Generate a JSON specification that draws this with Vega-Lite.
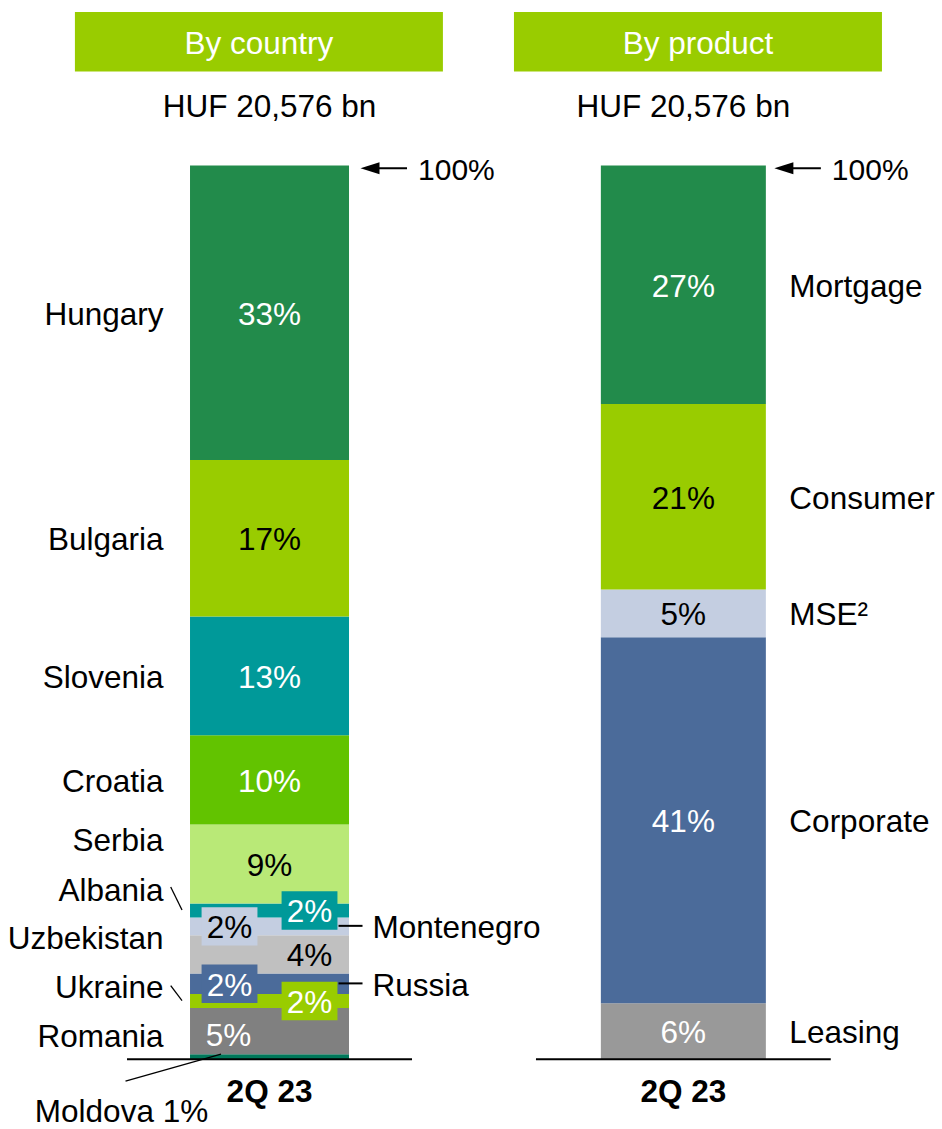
{
  "$schema": "https://vega.github.io/schema/vega-lite/v6.json",
  "width": 942,
  "height": 1129,
  "autosize": {"type": "fit", "contains": "padding"},
  "padding": 0,
  "background": "white",
  "config": {
    "view": {"stroke": null},
    "font": "Liberation Sans",
    "text": {"font": "Liberation Sans", "fontSize": 31.5, "dy": 3, "baseline": "middle"}
  },
  "datasets": {
    "segments": [
      {"panel": "country", "name": "Moldova", "value": 0.56, "pct": "1%", "order": 1},
      {"panel": "country", "name": "Romania", "value": 5.17, "pct": "5%", "order": 2},
      {"panel": "country", "name": "Ukraine", "value": 1.56, "pct": "2%", "order": 3},
      {"panel": "country", "name": "Russia", "value": 2.31, "pct": "2%", "order": 4},
      {"panel": "country", "name": "Uzbekistan", "value": 4.27, "pct": "4%", "order": 5},
      {"panel": "country", "name": "Montenegro", "value": 1.98, "pct": "2%", "order": 6},
      {"panel": "country", "name": "Albania", "value": 1.58, "pct": "2%", "order": 7},
      {"panel": "country", "name": "Serbia", "value": 8.83, "pct": "9%", "order": 8},
      {"panel": "country", "name": "Croatia", "value": 10.0, "pct": "10%", "order": 9},
      {"panel": "country", "name": "Slovenia", "value": 13.28, "pct": "13%", "order": 10},
      {"panel": "country", "name": "Bulgaria", "value": 17.52, "pct": "17%", "order": 11},
      {"panel": "country", "name": "Hungary", "value": 32.94, "pct": "33%", "order": 12},
      {"panel": "product", "name": "Leasing", "value": 6.25, "pct": "6%", "order": 1},
      {"panel": "product", "name": "Corporate", "value": 40.96, "pct": "41%", "order": 2},
      {"panel": "product", "name": "MSE²", "value": 5.36, "pct": "5%", "order": 3},
      {"panel": "product", "name": "Consumer", "value": 20.76, "pct": "21%", "order": 4},
      {"panel": "product", "name": "Mortgage", "value": 26.67, "pct": "27%", "order": 5}
    ],
    "panels": [
      {"panel": "country", "header": "By country", "total": "HUF 20,576 bn", "period": "2Q 23", "top": "100%"},
      {"panel": "product", "header": "By product", "total": "HUF 20,576 bn", "period": "2Q 23", "top": "100%"}
    ]
  },
  "layer": [
    {
      "data": {"name": "segments"},
      "transform": [
        {"stack": "value", "groupby": ["panel"], "sort": [{"field": "order", "order": "ascending"}], "as": ["v0", "v1"]},
        {"calculate": "(datum.v0 + datum.v1) / 2", "as": "mid"}
      ],
      "layer": [
        {
          "transform": [{"filter": "datum.panel === 'country'"}],
          "mark": {"type": "bar", "width": 159},
          "encoding": {
            "x": {"field": "panel", "type": "nominal", "axis": null, "scale": {"domain": ["country", "product"], "paddingInner": 0.6, "paddingOuter": 0.4381, "align": 0.515}},
            "y": {"field": "v0", "type": "quantitative", "axis": null, "scale": {"domain": [-7.478, 118.527], "nice": false, "zero": false}},
            "y2": {"field": "v1"},
            "color": {"field": "name", "type": "nominal", "legend": null, "scale": {
              "domain": ["Hungary", "Bulgaria", "Slovenia", "Croatia", "Serbia", "Albania", "Montenegro", "Uzbekistan", "Russia", "Ukraine", "Romania", "Moldova", "Mortgage", "Consumer", "MSE²", "Corporate", "Leasing"],
              "range": ["#228B4B", "#99CC00", "#009999", "#62C300", "#B9E977", "#009999", "#C4CEE1", "#C0C0C0", "#4B6B9A", "#99CC00", "#808080", "#00785A", "#228B4B", "#99CC00", "#C4CEE1", "#4B6B9A", "#999999"]}}
          }
        },
        {
          "transform": [{"filter": "datum.panel === 'product'"}],
          "mark": {"type": "bar", "width": 165},
          "encoding": {
            "x": {"field": "panel", "type": "nominal", "axis": null},
            "y": {"field": "v0", "type": "quantitative", "axis": null},
            "y2": {"field": "v1"},
            "color": {"field": "name", "type": "nominal", "legend": null}
          }
        },
        {
          "transform": [{"filter": "indexof(['Montenegro','Russia'], datum.name) >= 0"}],
          "mark": {"type": "point", "shape": "M-1.4545,-1L1.4545,-1L1.4545,1L-1.4545,1Z", "filled": true, "size": 1475, "opacity": 1, "strokeWidth": 0, "xOffset": -40},
          "encoding": {
            "x": {"field": "panel", "type": "nominal", "axis": null},
            "y": {"field": "mid", "type": "quantitative", "axis": null},
            "color": {"field": "name", "type": "nominal", "legend": null}
          }
        },
        {
          "transform": [{"filter": "indexof(['Albania','Ukraine'], datum.name) >= 0"}],
          "mark": {"type": "point", "shape": "M-1.4545,-1L1.4545,-1L1.4545,1L-1.4545,1Z", "filled": true, "size": 1475, "opacity": 1, "strokeWidth": 0, "xOffset": 40},
          "encoding": {
            "x": {"field": "panel", "type": "nominal", "axis": null},
            "y": {"field": "mid", "type": "quantitative", "axis": null},
            "color": {"field": "name", "type": "nominal", "legend": null}
          }
        },
        {
          "transform": [{"filter": "indexof(['Hungary','Bulgaria','Slovenia','Croatia','Serbia','Mortgage','Consumer','MSE²','Corporate','Leasing'], datum.name) >= 0"}],
          "mark": {"type": "text", "align": "center"},
          "encoding": {
            "x": {"field": "panel", "type": "nominal", "axis": null},
            "y": {"field": "mid", "type": "quantitative", "axis": null},
            "text": {"field": "pct"},
            "color": {"condition": {"test": "indexof(['Bulgaria','Serbia','Montenegro','Uzbekistan','Consumer','MSE²'], datum.name) >= 0", "value": "#000000"}, "value": "#FFFFFF"}
          }
        },
        {
          "transform": [{"filter": "indexof(['Montenegro','Russia'], datum.name) >= 0"}],
          "mark": {"type": "text", "align": "center", "dx": -40},
          "encoding": {
            "x": {"field": "panel", "type": "nominal", "axis": null},
            "y": {"field": "mid", "type": "quantitative", "axis": null},
            "text": {"field": "pct"},
            "color": {"condition": {"test": "indexof(['Bulgaria','Serbia','Montenegro','Uzbekistan','Consumer','MSE²'], datum.name) >= 0", "value": "#000000"}, "value": "#FFFFFF"}
          }
        },
        {
          "transform": [{"filter": "datum.name === 'Romania'"}],
          "mark": {"type": "text", "align": "center", "dx": -41, "dy": 6},
          "encoding": {
            "x": {"field": "panel", "type": "nominal", "axis": null},
            "y": {"field": "mid", "type": "quantitative", "axis": null},
            "text": {"field": "pct"},
            "color": {"value": "#FFFFFF"}
          }
        },
        {
          "transform": [{"filter": "indexof(['Albania','Ukraine','Uzbekistan'], datum.name) >= 0"}],
          "mark": {"type": "text", "align": "center", "dx": 40},
          "encoding": {
            "x": {"field": "panel", "type": "nominal", "axis": null},
            "y": {"field": "mid", "type": "quantitative", "axis": null},
            "text": {"field": "pct"},
            "color": {"condition": {"test": "indexof(['Bulgaria','Serbia','Montenegro','Uzbekistan','Consumer','MSE²'], datum.name) >= 0", "value": "#000000"}, "value": "#FFFFFF"}
          }
        },
        {
          "transform": [{"filter": "indexof(['Hungary','Bulgaria','Slovenia','Croatia'], datum.name) >= 0"}],
          "mark": {"type": "text", "align": "right", "dx": -106, "color": "#000000"},
          "encoding": {
            "x": {"field": "panel", "type": "nominal", "axis": null},
            "y": {"field": "mid", "type": "quantitative", "axis": null},
            "text": {"field": "name"}
          }
        },
        {
          "transform": [{"filter": "indexof(['Montenegro','Russia'], datum.name) >= 0"}],
          "mark": {"type": "text", "align": "left", "dx": 103, "color": "#000000"},
          "encoding": {
            "x": {"field": "panel", "type": "nominal", "axis": null},
            "y": {"field": "mid", "type": "quantitative", "axis": null},
            "text": {"field": "name"}
          }
        },
        {
          "transform": [{"filter": "datum.panel === 'product'"}],
          "mark": {"type": "text", "align": "left", "dx": 106, "color": "#000000"},
          "encoding": {
            "x": {"field": "panel", "type": "nominal", "axis": null},
            "y": {"field": "mid", "type": "quantitative", "axis": null},
            "text": {"field": "name"}
          }
        },
        {
          "transform": [{"filter": "datum.name === 'Serbia'"}],
          "mark": {"type": "text", "align": "right", "dx": -106, "color": "#000000"},
          "encoding": {
            "x": {"field": "panel", "type": "nominal", "axis": null},
            "y": {"datum": 24.59, "type": "quantitative", "axis": null},
            "text": {"field": "name"}
          }
        },
        {
          "transform": [{"filter": "datum.name === 'Albania'"}],
          "mark": {"type": "text", "align": "right", "dx": -106, "color": "#000000"},
          "encoding": {
            "x": {"field": "panel", "type": "nominal", "axis": null},
            "y": {"datum": 19.01, "type": "quantitative", "axis": null},
            "text": {"field": "name"}
          }
        },
        {
          "transform": [{"filter": "datum.name === 'Uzbekistan'"}],
          "mark": {"type": "text", "align": "right", "dx": -106, "color": "#000000"},
          "encoding": {
            "x": {"field": "panel", "type": "nominal", "axis": null},
            "y": {"datum": 13.62, "type": "quantitative", "axis": null},
            "text": {"field": "name"}
          }
        },
        {
          "transform": [{"filter": "datum.name === 'Ukraine'"}],
          "mark": {"type": "text", "align": "right", "dx": -106, "color": "#000000"},
          "encoding": {
            "x": {"field": "panel", "type": "nominal", "axis": null},
            "y": {"datum": 8.23, "type": "quantitative", "axis": null},
            "text": {"field": "name"}
          }
        },
        {
          "transform": [{"filter": "datum.name === 'Romania'"}],
          "mark": {"type": "text", "align": "right", "dx": -106, "color": "#000000"},
          "encoding": {
            "x": {"field": "panel", "type": "nominal", "axis": null},
            "y": {"datum": 2.65, "type": "quantitative", "axis": null},
            "text": {"field": "name"}
          }
        },
        {
          "transform": [{"filter": "datum.name === 'Moldova'"}, {"calculate": "datum.name + ' ' + datum.pct", "as": "caption"}],
          "mark": {"type": "text", "align": "center", "dx": -148, "color": "#000000"},
          "encoding": {
            "x": {"field": "panel", "type": "nominal", "axis": null},
            "y": {"datum": -5.65, "type": "quantitative", "axis": null},
            "text": {"field": "caption"}
          }
        }
      ]
    },
    {
      "data": {"name": "panels"},
      "layer": [
        {
          "transform": [{"filter": "datum.panel === 'country'"}],
          "mark": {"type": "bar", "width": 368, "xOffset": -10.6, "color": "#99CC00"},
          "encoding": {
            "x": {"field": "panel", "type": "nominal", "axis": null},
            "y": {"datum": 117.19, "type": "quantitative", "axis": null},
            "y2": {"datum": 110.52}
          }
        },
        {
          "transform": [{"filter": "datum.panel === 'product'"}],
          "mark": {"type": "bar", "width": 368, "xOffset": 14.6, "color": "#99CC00"},
          "encoding": {
            "x": {"field": "panel", "type": "nominal", "axis": null},
            "y": {"datum": 117.19, "type": "quantitative", "axis": null},
            "y2": {"datum": 110.52}
          }
        },
        {
          "transform": [{"filter": "datum.panel === 'country'"}],
          "mark": {"type": "text", "align": "center", "dx": -10.6, "color": "#FFFFFF"},
          "encoding": {
            "x": {"field": "panel", "type": "nominal", "axis": null},
            "y": {"datum": 113.87, "type": "quantitative", "axis": null},
            "text": {"field": "header"}
          }
        },
        {
          "transform": [{"filter": "datum.panel === 'product'"}],
          "mark": {"type": "text", "align": "center", "dx": 14.6, "color": "#FFFFFF"},
          "encoding": {
            "x": {"field": "panel", "type": "nominal", "axis": null},
            "y": {"datum": 113.87, "type": "quantitative", "axis": null},
            "text": {"field": "header"}
          }
        },
        {
          "mark": {"type": "text", "align": "center", "color": "#000000"},
          "encoding": {
            "x": {"field": "panel", "type": "nominal", "axis": null},
            "y": {"datum": 106.81, "type": "quantitative", "axis": null},
            "text": {"field": "total"}
          }
        },
        {
          "mark": {"type": "text", "align": "center", "color": "#000000", "fontWeight": "bold"},
          "encoding": {
            "x": {"field": "panel", "type": "nominal", "axis": null},
            "y": {"datum": -3.46, "type": "quantitative", "axis": null},
            "text": {"field": "period"}
          }
        },
        {
          "transform": [{"filter": "datum.panel === 'country'"}],
          "mark": {"type": "rule", "color": "#000000", "strokeWidth": 2, "xOffset": -142.5, "x2Offset": 142.5},
          "encoding": {
            "x": {"field": "panel", "type": "nominal", "axis": null},
            "x2": {"field": "panel"},
            "y": {"datum": 0, "type": "quantitative", "axis": null}
          }
        },
        {
          "transform": [{"filter": "datum.panel === 'product'"}],
          "mark": {"type": "rule", "color": "#000000", "strokeWidth": 2, "xOffset": -147.4, "x2Offset": 147.4},
          "encoding": {
            "x": {"field": "panel", "type": "nominal", "axis": null},
            "x2": {"field": "panel"},
            "y": {"datum": 0, "type": "quantitative", "axis": null}
          }
        },
        {
          "mark": {"type": "rule", "color": "#000000", "strokeWidth": 2, "xOffset": 100, "x2Offset": 137.5},
          "encoding": {
            "x": {"field": "panel", "type": "nominal", "axis": null},
            "x2": {"field": "panel"},
            "y": {"datum": 99.7, "type": "quantitative", "axis": null}
          }
        },
        {
          "mark": {"type": "point", "shape": "M-1,0L1,-0.62L1,0.62Z", "filled": true, "size": 361, "opacity": 1, "strokeWidth": 0, "color": "#000000", "xOffset": 100.5},
          "encoding": {
            "x": {"field": "panel", "type": "nominal", "axis": null},
            "y": {"datum": 99.7, "type": "quantitative", "axis": null}
          }
        },
        {
          "mark": {"type": "text", "align": "left", "dx": 148.5, "color": "#000000", "fontSize": 30},
          "encoding": {
            "x": {"field": "panel", "type": "nominal", "axis": null},
            "y": {"datum": 99.7, "type": "quantitative", "axis": null},
            "text": {"field": "top"}
          }
        },
        {
          "transform": [{"filter": "datum.panel === 'country'"}],
          "mark": {"type": "rule", "color": "#000000", "strokeWidth": 1.3, "xOffset": -98.8, "x2Offset": -87.5},
          "encoding": {
            "x": {"field": "panel", "type": "nominal", "axis": null},
            "x2": {"field": "panel"},
            "y": {"datum": 19.27, "type": "quantitative", "axis": null},
            "y2": {"datum": 16.69}
          }
        },
        {
          "transform": [{"filter": "datum.panel === 'country'"}],
          "mark": {"type": "rule", "color": "#000000", "strokeWidth": 1.3, "xOffset": -98.8, "x2Offset": -87.5},
          "encoding": {
            "x": {"field": "panel", "type": "nominal", "axis": null},
            "x2": {"field": "panel"},
            "y": {"datum": 8.23, "type": "quantitative", "axis": null},
            "y2": {"datum": 6.55}
          }
        },
        {
          "transform": [{"filter": "datum.panel === 'country'"}],
          "mark": {"type": "rule", "color": "#000000", "strokeWidth": 2, "xOffset": 69, "x2Offset": 93},
          "encoding": {
            "x": {"field": "panel", "type": "nominal", "axis": null},
            "x2": {"field": "panel"},
            "y": {"datum": 14.92, "type": "quantitative", "axis": null}
          }
        },
        {
          "transform": [{"filter": "datum.panel === 'country'"}],
          "mark": {"type": "rule", "color": "#000000", "strokeWidth": 2, "xOffset": 69, "x2Offset": 93},
          "encoding": {
            "x": {"field": "panel", "type": "nominal", "axis": null},
            "x2": {"field": "panel"},
            "y": {"datum": 8.48, "type": "quantitative", "axis": null}
          }
        },
        {
          "transform": [{"filter": "datum.panel === 'country'"}],
          "mark": {"type": "rule", "color": "#000000", "strokeWidth": 1.3, "xOffset": -144, "x2Offset": -48.5},
          "encoding": {
            "x": {"field": "panel", "type": "nominal", "axis": null},
            "x2": {"field": "panel"},
            "y": {"datum": -2.46, "type": "quantitative", "axis": null},
            "y2": {"datum": 0.56}
          }
        }
      ]
    }
  ]
}
